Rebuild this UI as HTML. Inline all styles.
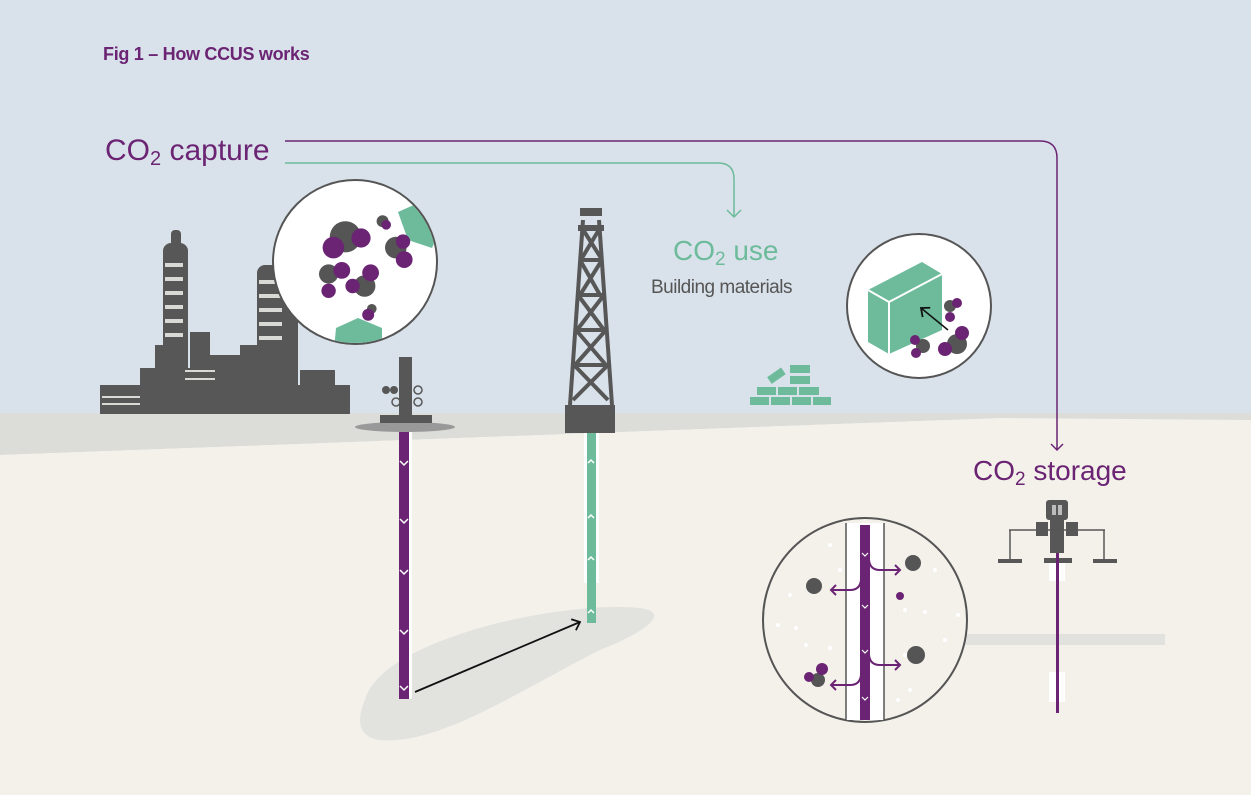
<!DOCTYPE html>
<html><head><meta charset="utf-8"><style>
html,body{margin:0;padding:0;width:1251px;height:795px;overflow:hidden;background:#f3f1ea}
svg{display:block}
text{font-family:"Liberation Sans",sans-serif}
</style></head><body>
<svg width="1251" height="795" viewBox="0 0 1251 795" xmlns="http://www.w3.org/2000/svg">
<defs>
<marker id="ap" markerWidth="14" markerHeight="14" refX="7" refY="7" orient="auto" markerUnits="userSpaceOnUse"><path d="M1,1 L7,7 L1,13" fill="none" stroke="#6b2473" stroke-width="1.5"/></marker>
<marker id="ag" markerWidth="16" markerHeight="16" refX="8" refY="8" orient="auto" markerUnits="userSpaceOnUse"><path d="M1,1 L8,8 L1,15" fill="none" stroke="#6dbb9b" stroke-width="1.5"/></marker>
<marker id="ak" markerWidth="14" markerHeight="14" refX="8" refY="7" orient="auto" markerUnits="userSpaceOnUse"><path d="M1,1 L8,7 L1,13" fill="none" stroke="#111" stroke-width="1.8"/></marker>
</defs>
<rect width="1251" height="420" fill="#d9e2ea"/>
<polygon points="0,413 1251,413 1251,420 1000,418 0,455" fill="#dcdcd8"/>
<polygon points="0,455 1000,418 1251,420 1251,795 0,795" fill="#f3f1ea"/>
<path d="M365,700 C380,640 560,600 640,608 C670,612 650,630 600,650 C520,690 440,745 380,740 C355,737 358,715 365,700 Z" fill="#e2e2df"/>
<rect x="965" y="634" width="200" height="11" fill="#e1e1de"/>
<text x="103" y="60" font-size="18" font-weight="bold" fill="#6b2473" letter-spacing="-0.3">Fig 1 – How CCUS works</text>
<text x="105" y="160" font-size="30" fill="#6b2473">CO<tspan font-size="20" dy="5">2</tspan><tspan dy="-5"> capture</tspan></text>
<path d="M285,141 H1040 Q1057,141 1057,158 V450" fill="none" stroke="#6b2473" stroke-width="1.5" marker-end="url(#ap)"/>
<path d="M285,163 H718 Q734,163 734,179 V217" fill="none" stroke="#6dbb9b" stroke-width="1.5" marker-end="url(#ag)"/>
<text x="673" y="260" font-size="28" fill="#6dbb9b">CO<tspan font-size="19" dy="5">2</tspan><tspan dy="-5"> use</tspan></text>
<text x="651" y="293" font-size="19" fill="#555" letter-spacing="-0.5">Building materials</text>
<text x="973" y="480" font-size="28" fill="#6b2473">CO<tspan font-size="19" dy="5">2</tspan><tspan dy="-5"> storage</tspan></text>
<g fill="#575757">
<rect x="100" y="385" width="250" height="29"/>
<rect x="100" y="388" width="45" height="20"/>
<rect x="140" y="368" width="150" height="22"/>
<rect x="163" y="243" width="25" height="145" rx="8"/>
<rect x="171" y="230" width="10" height="20" rx="4"/>
<rect x="257" y="265" width="30" height="125" rx="8"/>
<rect x="286" y="280" width="12" height="110"/>
<rect x="240" y="345" width="20" height="40"/>
<rect x="190" y="332" width="20" height="40"/>
<rect x="210" y="355" width="30" height="20"/>
<rect x="155" y="345" width="10" height="30"/>
<rect x="300" y="370" width="35" height="20"/>
</g>
<g fill="#d9d9d6">
<rect x="165" y="263" width="18" height="4"/><rect x="165" y="277" width="18" height="4"/><rect x="165" y="291" width="18" height="4"/><rect x="165" y="305" width="18" height="4"/><rect x="165" y="319" width="18" height="4"/><rect x="165" y="333" width="18" height="4"/>
<rect x="259" y="280" width="23" height="4"/><rect x="259" y="294" width="23" height="4"/><rect x="259" y="308" width="23" height="4"/><rect x="259" y="322" width="23" height="4"/><rect x="259" y="336" width="23" height="4"/>
<rect x="102" y="396" width="38" height="2"/><rect x="102" y="403" width="38" height="2"/>
<rect x="185" y="370" width="30" height="2"/><rect x="185" y="378" width="30" height="2"/>
</g>
<!-- capture circle -->
<circle cx="355" cy="262" r="82" fill="#fff" stroke="#555" stroke-width="2"/>
<clipPath id="c1"><circle cx="355" cy="262" r="81"/></clipPath>
<g clip-path="url(#c1)">
<polygon points="398,212 425,200 440,230 432,248 408,240" fill="#6dbb9b"/>
<polygon points="336,328 358,318 382,328 382,350 334,350" fill="#6dbb9b"/>
</g>
<g transform="translate(355,262) scale(1.2) translate(-345,-263)">
<circle cx="337" cy="242" r="13" fill="#555"/><circle cx="350" cy="243" r="8" fill="#6b2473"/><circle cx="327" cy="251" r="9" fill="#6b2473"/>
<circle cx="368" cy="229" r="5" fill="#555"/><circle cx="371" cy="232" r="4" fill="#6b2473"/>
<circle cx="379" cy="251" r="9" fill="#555"/><circle cx="385" cy="246" r="6" fill="#6b2473"/><circle cx="386" cy="261" r="7" fill="#6b2473"/>
<circle cx="323" cy="273" r="8" fill="#555"/><circle cx="334" cy="270" r="7" fill="#6b2473"/><circle cx="323" cy="287" r="6" fill="#6b2473"/>
<circle cx="353" cy="283" r="9" fill="#555"/><circle cx="358" cy="272" r="7" fill="#6b2473"/><circle cx="343" cy="283" r="6" fill="#6b2473"/>
<circle cx="359" cy="302" r="4" fill="#555"/><circle cx="356" cy="307" r="5" fill="#6b2473"/>
</g>
<ellipse cx="405" cy="427" rx="50" ry="5" fill="#999"/>
<rect x="380" y="415" width="52" height="8" fill="#575757"/>
<rect x="399" y="357" width="13" height="60" fill="#575757"/>
<circle cx="386" cy="390" r="4" fill="#575757"/><circle cx="394" cy="390" r="4" fill="#575757"/>
<circle cx="418" cy="390" r="4" fill="none" stroke="#575757" stroke-width="1.5"/>
<circle cx="396" cy="402" r="4" fill="none" stroke="#575757" stroke-width="1.5"/><circle cx="418" cy="402" r="4" fill="none" stroke="#575757" stroke-width="1.5"/>
<rect x="399" y="432" width="13" height="267" fill="#fff"/>
<rect x="399" y="432" width="10" height="267" fill="#6b2473"/>
<g fill="none" stroke="#fff" stroke-width="1.5">
<path d="M400,461 l4,4 l4,-4"/><path d="M400,519 l4,4 l4,-4"/><path d="M400,570 l4,4 l4,-4"/><path d="M400,630 l4,4 l4,-4"/><path d="M400,686 l4,4 l4,-4"/>
</g>
<g stroke="#575757" stroke-width="4" fill="none">
<path d="M570,405 L583,220 M612,405 L599,220"/>
<path d="M580,260 L600,295 M602,260 L580,295 M578,295 L604,330 M604,295 L577,330 M576,330 L606,365 M606,330 L575,365 M574,365 L608,400 M608,365 L573,400 M582,228 L601,258 M600,228 L582,258"/>
<path d="M581,260 H601 M578,295 H604 M576,330 H606 M574,365 H608"/>
</g>
<rect x="580" y="208" width="22" height="8" fill="#575757"/>
<rect x="578" y="225" width="26" height="6" fill="#575757"/>
<rect x="565" y="405" width="50" height="28" fill="#575757"/>
<rect x="584" y="433" width="15" height="150" fill="#fff"/>
<rect x="587" y="433" width="9" height="190" fill="#6dbb9b"/>
<g fill="none" stroke="#fff" stroke-width="1.5">
<path d="M588,463 l3,-3 l3,3"/><path d="M588,518 l3,-3 l3,3"/><path d="M588,560 l3,-3 l3,3"/><path d="M588,613 l3,-3 l3,3"/>
</g>
<line x1="415" y1="692" x2="580" y2="622" stroke="#111" stroke-width="1.8" marker-end="url(#ak)"/>
<g fill="#6dbb9b">
<rect x="750" y="397" width="19" height="8"/><rect x="771" y="397" width="19" height="8"/><rect x="792" y="397" width="19" height="8"/><rect x="813" y="397" width="18" height="8"/>
<rect x="757" y="387" width="19" height="8"/><rect x="778" y="387" width="19" height="8"/><rect x="799" y="387" width="20" height="8"/>
<rect x="790" y="376" width="20" height="8"/><rect x="790" y="365" width="20" height="8"/>
<rect x="768" y="372" width="17" height="8" transform="rotate(-35 776 376)"/>
</g>
<circle cx="919" cy="306" r="72" fill="#fff" stroke="#555" stroke-width="2"/>
<polygon points="868,290 922,262 942,274 942,330 889,354 868,342" fill="#6dbb9b"/>
<path d="M868,290 L889,302 L942,274 M889,302 V354" stroke="#fff" stroke-width="2" fill="none"/>
<line x1="948" y1="330" x2="921" y2="308" stroke="#111" stroke-width="1.5" marker-end="url(#ak)"/>
<circle cx="950" cy="306" r="6" fill="#555"/><circle cx="957" cy="303" r="5" fill="#6b2473"/><circle cx="950" cy="317" r="5" fill="#6b2473"/>
<circle cx="957" cy="344" r="10" fill="#555"/><circle cx="962" cy="333" r="7" fill="#6b2473"/><circle cx="945" cy="349" r="7" fill="#6b2473"/>
<circle cx="923" cy="346" r="7" fill="#555"/><circle cx="915" cy="340" r="5" fill="#6b2473"/><circle cx="916" cy="353" r="5" fill="#6b2473"/>
<circle cx="865" cy="620" r="102" fill="#f3f1ea" stroke="#555" stroke-width="2"/>
<g fill="#fff"><circle cx="830" cy="545" r="2"/><circle cx="840" cy="570" r="2"/><circle cx="790" cy="595" r="2"/><circle cx="778" cy="625" r="2"/><circle cx="796" cy="628" r="2"/><circle cx="806" cy="645" r="2"/><circle cx="830" cy="648" r="2"/><circle cx="905" cy="610" r="2"/><circle cx="925" cy="612" r="2"/><circle cx="945" cy="640" r="2"/><circle cx="910" cy="690" r="2"/><circle cx="898" cy="700" r="2"/><circle cx="935" cy="570" r="2"/><circle cx="958" cy="615" r="2"/><circle cx="905" cy="655" r="2"/></g>
<rect x="846" y="523" width="38" height="197" fill="#fff"/>
<line x1="846" y1="523" x2="846" y2="720" stroke="#555" stroke-width="1.5"/>
<line x1="884" y1="523" x2="884" y2="720" stroke="#555" stroke-width="1.5"/>
<rect x="860" y="525" width="10" height="195" fill="#6b2473"/>
<g fill="none" stroke="#fff" stroke-width="1.2"><path d="M862,553 l3,3 l3,-3"/><path d="M862,605 l3,3 l3,-3"/><path d="M862,650 l3,3 l3,-3"/><path d="M862,697 l3,3 l3,-3"/></g>
<g fill="none" stroke="#6b2473" stroke-width="2">
<path d="M869,560 Q870,570 880,570 H900 M895,565 l5,5 l-5,5"/>
<path d="M861,580 Q860,590 850,590 H831 M836,585 l-5,5 l5,5"/>
<path d="M869,655 Q870,665 880,665 H900 M895,660 l5,5 l-5,5"/>
<path d="M861,675 Q860,685 850,685 H831 M836,680 l-5,5 l5,5"/>
</g>
<circle cx="913" cy="563" r="8" fill="#555"/><circle cx="814" cy="586" r="8" fill="#555"/><circle cx="900" cy="596" r="4" fill="#6b2473"/>
<circle cx="916" cy="655" r="9" fill="#555"/>
<circle cx="818" cy="680" r="7" fill="#555"/><circle cx="822" cy="669" r="6" fill="#6b2473"/><circle cx="809" cy="677" r="5" fill="#6b2473"/>
<rect x="1046" y="500" width="22" height="20" rx="3" fill="#575757"/>
<rect x="1052" y="505" width="4" height="10" fill="#bbb"/><rect x="1058" y="505" width="4" height="10" fill="#bbb"/>
<rect x="1050" y="518" width="14" height="35" fill="#575757"/>
<line x1="1009" y1="530" x2="1105" y2="530" stroke="#575757" stroke-width="1.5"/>
<line x1="1010" y1="530" x2="1010" y2="560" stroke="#575757" stroke-width="1.5"/>
<line x1="1104" y1="530" x2="1104" y2="560" stroke="#575757" stroke-width="1.5"/>
<rect x="1036" y="522" width="12" height="14" fill="#575757"/><rect x="1066" y="522" width="12" height="14" fill="#575757"/>
<rect x="998" y="559" width="24" height="4" fill="#575757"/><rect x="1044" y="558" width="28" height="5" fill="#575757"/><rect x="1093" y="559" width="24" height="4" fill="#575757"/>
<rect x="1049" y="563" width="16" height="18" fill="#fff"/><rect x="1049" y="672" width="16" height="30" fill="#fff"/>
<rect x="1056" y="553" width="3" height="160" fill="#6b2473"/>
</svg>
</body></html>
